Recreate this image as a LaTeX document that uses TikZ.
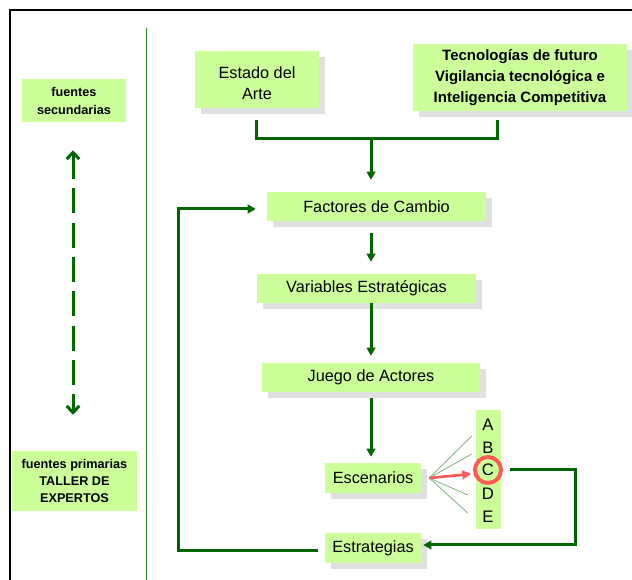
\documentclass[tikz,border=0pt]{standalone}
\usepackage{fontspec}
\setmainfont{Liberation Sans}
\usetikzlibrary{arrows.meta,shadows,calc}
\definecolor{boxgreen}{HTML}{CCFF99}
\definecolor{lineg}{HTML}{006600}
\definecolor{shad}{HTML}{E0E0E0}
\definecolor{redc}{HTML}{FF5A5A}
\definecolor{fang}{HTML}{7FB27F}
\definecolor{sepg}{HTML}{2E8B2E}
\begin{document}
\begin{tikzpicture}[x=0.75pt,y=-0.75pt,
  gbox/.style={fill=boxgreen, draw=none, inner sep=0pt, align=center},
  sbox/.style={gbox, general shadow={fill=shad, shadow xshift=4.5pt, shadow yshift=-4.5pt}},
  mainfont/.style={font=\fontsize{12.2}{15.75}\selectfont},
  tecfont/.style={font=\fontsize{11.25}{15.75}\selectfont\bfseries},
  leftfont/.style={font=\fontsize{9.5}{13.5}\selectfont\bfseries},
  letfont/.style={font=\fontsize{12.5}{13}\selectfont, inner sep=0pt},
  conn/.style={draw=lineg, line width=2.25pt},
  arr/.style={conn, -{Triangle[length=6pt,width=6.5pt]}},
  dasharr/.style={draw=lineg, line width=2.25pt, dash pattern=on 18.75pt off 7pt,
     {Straight Barb[length=5pt,width=9.5pt]}-{Straight Barb[length=5pt,width=9.5pt]}},
  fanline/.style={draw=fang, line width=0.6pt},
  redarr/.style={draw=redc, line width=2pt, -{Triangle[length=6.5pt,width=6.5pt]}}
]
\useasboundingbox (0,0) rectangle (632,580);
\fill[white] (0,0) rectangle (632,580);

% frame and separator
\draw[black, line width=1.5pt] (10,580) -- (10,10) -- (632,10);
\draw[sepg, line width=0.75pt] (146,28) -- (146,580);

% left column
\node[gbox, leftfont, minimum width=78pt, minimum height=32.25pt] (fsec) at (74,100.5) {fuentes\\secundarias};
\node[gbox, font=\fontsize{9.5}{12.4}\selectfont\bfseries, minimum width=93.75pt, minimum height=45pt] (fprim) at (74.5,481) {fuentes primarias\\TALLER DE\\EXPERTOS};
\draw[dasharr] ($(fsec.south)+(-1,28)$) -- ($(fprim.north)+(-1.5,-36)$);

% main boxes
\node[sbox, minimum width=93pt, minimum height=42.75pt] (estado) at (257,79.5) {};
\node[mainfont, align=center, inner sep=0pt] (estadotxt) at ($(estado.center)+(0,4)$) {Estado del\\Arte};
\node[sbox, tecfont, minimum width=160.5pt, minimum height=50.25pt] (tec) at (520,77.5) {Tecnologías de futuro\\Vigilancia tecnológica e\\Inteligencia Competitiva};
\node[sbox, mainfont, minimum width=164.25pt, minimum height=21.75pt] (fact) at (376.5,206.5) {Factores de Cambio};
\node[sbox, mainfont, minimum width=164.25pt, minimum height=21.75pt] (var) at (366.5,288.5) {Variables Estratégicas};
\node[sbox, mainfont, minimum width=163.5pt, minimum height=21.75pt] (jue) at (371,377.5) {Juego de Actores};
\node[sbox, mainfont, minimum width=72pt, minimum height=22.5pt] (esc) at (373,478) {Escenarios};
\node[sbox, mainfont, minimum width=72pt, minimum height=22.5pt] (estr) at (373,548) {Estrategias};

% letters column
\node[gbox, minimum width=18.75pt, minimum height=89.25pt] (col) at (488.5,469.5) {};
\node[letfont] (letA) at (488,425) {A};
\node[letfont] (letB) at (488,448) {B};
\node[letfont] (letC) at (488,470) {C};
\node[letfont] (letD) at (488,494) {D};
\node[letfont] (letE) at (488,517) {E};
\node[circle, draw=redc, line width=3pt, minimum size=19.5pt, inner sep=0pt] (circ) at (letC) {};

% top bracket
\coordinate (join) at (371,138);
\draw[conn] ($(estado.south)+(-1,12)$) -- ($(estado.south)+(-1,30)$) -- ($(tec.south)+(-23,27)$) -- ($(tec.south)+(-23,9)$);
\draw[arr] (join) -- ($(join |- fact.north)+(0,-12)$);

% vertical chain
\draw[arr, shorten <=9pt, shorten >=9pt] (fact.south -| join) -- (var.north -| join);
\draw[arr, shorten >=5.25pt] (var.south -| join) -- (jue.north -| join);
\draw[arr, shorten <=4.5pt, shorten >=4.5pt] (jue.south -| join) -- (esc.north -| join);

% fan from Escenarios
\coordinate (fan) at ($(esc.east)+(8,0)$);
\draw[fanline] (fan) -- ($(col.west)+(-4,-33.5)$);
\draw[fanline] (fan) -- ($(col.west)+(-4,-15.5)$);
\draw[fanline] (fan) -- ($(col.west)+(-8,25.5)$);
\draw[fanline] (fan) -- ($(col.west)+(-8,43.5)$);
\draw[redarr] (fan) -- ($(circ.west)+(-2,4)$);

% C to Estrategias
\coordinate (rc) at (575,545);
\draw[arr, shorten >=1.5pt] ($(circ.east)+(7,0)$) -| (rc) -- (estr.east |- rc);

% feedback loop
\coordinate (fbk) at (178,209);
\draw[arr] ($(estr.west)+(-7,3)$) -| (fbk) -- ($(fact.west |- fbk)+(-11,0)$);
\end{tikzpicture}
\end{document}
